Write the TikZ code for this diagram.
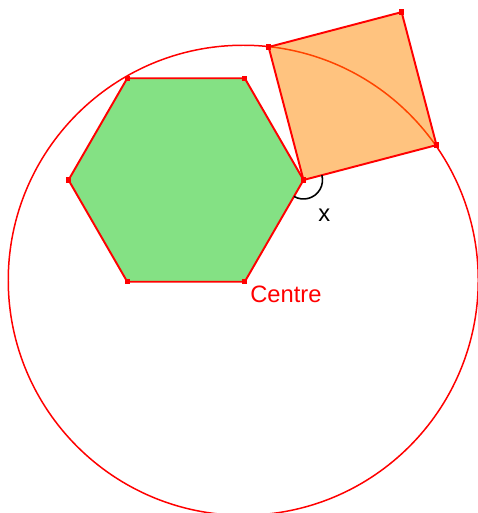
\documentclass[tikz,border=0pt]{standalone}
\usepackage{fontspec}
\setmainfont{Liberation Sans}
\usepackage{xcolor}
\usepackage{tikz}
\usetikzlibrary{calc}

\definecolor{hexgreen}{HTML}{09C309}
\definecolor{sqorange}{HTML}{FF8800}

\begin{document}
\begin{tikzpicture}[x=0.02cm, y=0.02cm,
    edge/.style={draw=red, line width=1.1pt, line join=round},
    dot/.style={fill=red, rectangle, inner sep=0pt, minimum size=3pt},
    lbl/.style={font=\fontsize{13.5}{16}\selectfont, inner sep=0pt}]
  \useasboundingbox (0,0) rectangle (477,513);

  % hexagon corners
  \coordinate (hexc) at (186,333);
  \foreach \i in {0,...,5}
    \coordinate (h\i) at ($(hexc)+(\i*60:117.5)$);

  % square on the right corner of the hexagon
  \coordinate (sq0) at (h0);
  \coordinate (sq1) at ($(sq0)+(14.7:137.5)$);
  \coordinate (sq3) at ($(sq0)+(104.7:137.5)$);
  \coordinate (sq2) at ($(sq1)+(104.7:137.5)$);

  \coordinate (circc) at ($(h5)+(-1.5,1.5)$);
  \draw[red, line width=0.85pt] (circc) circle (235);

  \fill[hexgreen, fill opacity=0.5] (h0) -- (h1) -- (h2) -- (h3) -- (h4) -- (h5) -- cycle;
  \draw[edge] (h0) -- (h1) -- (h2) -- (h3) -- (h4) -- (h5) -- cycle;

  \fill[sqorange, fill opacity=0.5] (sq0) -- (sq1) -- (sq2) -- (sq3) -- cycle;
  \draw[edge] (sq0) -- (sq1) -- (sq2) -- (sq3) -- cycle;

  % angle x
  \draw[black, line width=0.9pt] ($(h0)+(240:19)$) arc[start angle=240, end angle=374.7, radius=19];

  \foreach \p in {h0,h1,h2,h3,h4,h5,sq1,sq2,sq3}
    \node[dot] (m\p) at (\p) {};

  \node[lbl, text=red, anchor=base west] (centre) at (250,210) {Centre};
  \node[lbl, anchor=base west] (xlbl) at (318,291) {x};
\end{tikzpicture}
\end{document}
